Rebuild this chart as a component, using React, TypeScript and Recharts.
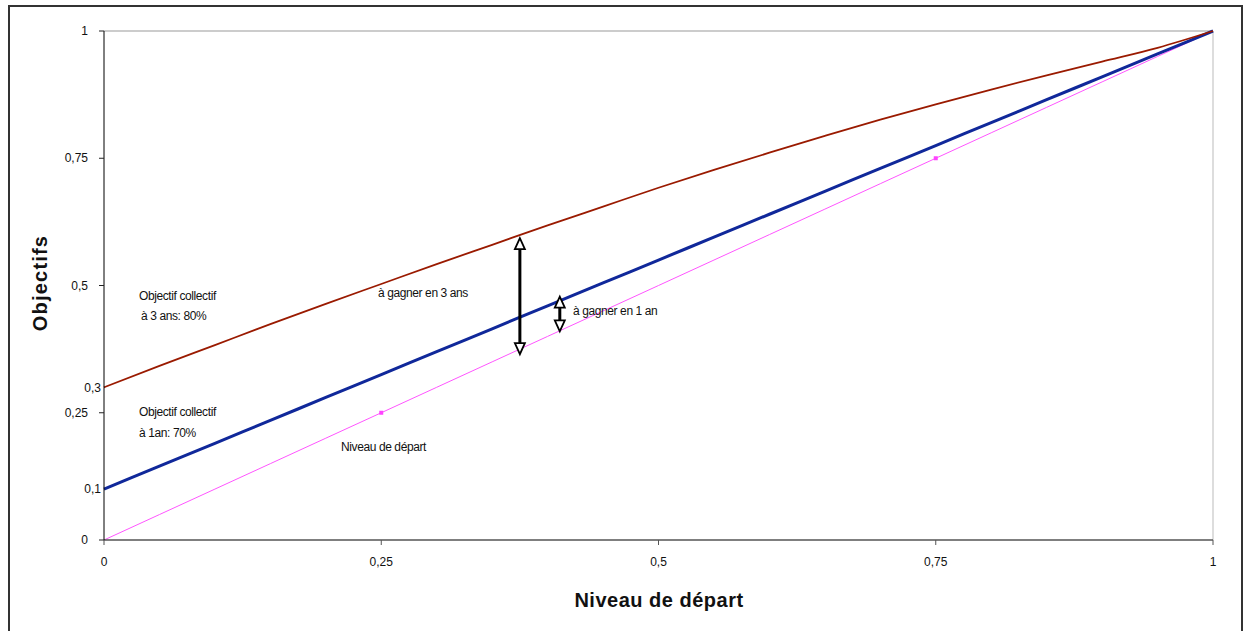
import React from "react";
import {
  LineChart,
  Line,
  XAxis,
  YAxis,
  ReferenceLine,
} from "recharts";

// niveau de départ (axe X)
const niveaux = [0, 0.05, 0.1, 0.15, 0.2, 0.25, 0.3, 0.35, 0.4, 0.45, 0.5, 0.55, 0.6, 0.65, 0.7, 0.75, 0.8, 0.85, 0.9, 0.95, 1];
// objectif collectif à 3 ans (80%)
const objectif3ans = [0.3, 0.342, 0.383, 0.424, 0.464, 0.503, 0.542, 0.58, 0.618, 0.655, 0.692, 0.727, 0.761, 0.794, 0.826, 0.856, 0.885, 0.913, 0.94, 0.967, 1];
// objectif collectif à 1 an (70%)
const objectif1an = [0.1, 0.145, 0.19, 0.235, 0.28, 0.325, 0.37, 0.415, 0.46, 0.505, 0.55, 0.595, 0.64, 0.685, 0.73, 0.775, 0.82, 0.865, 0.91, 0.955, 1];
// niveau de départ (diagonale)
const depart = [0, 0.05, 0.1, 0.15, 0.2, 0.25, 0.3, 0.35, 0.4, 0.45, 0.5, 0.55, 0.6, 0.65, 0.7, 0.75, 0.8, 0.85, 0.9, 0.95, 1];

const xTicks = [0, 0.25, 0.5, 0.75, 1];
const yTicks = [0, 0.1, 0.25, 0.3, 0.5, 0.75, 1];
const yMinorLabels = [0.1, 0.3];
const markerPoints = [0.25, 0.75];

// flèches "à gagner"
const fleche3ans = { x: 0.375, from: 0.593, to: 0.365 };
const fleche1an = { x: 0.411, from: 0.478, to: 0.41 };

const data = niveaux.map((x, i) => ({
  x,
  trois: objectif3ans[i],
  un: objectif1an[i],
  depart: depart[i],
}));

const fmt = (v: number) => String(v).replace(".", ",");

const YTick = (props: any) => {
  const { x, y, payload } = props;
  const v = payload.value;
  const minor = yMinorLabels.includes(v);
  return (
    <g>
      {!minor && <line x1={x - 5} x2={x} y1={y} y2={y} stroke="#222" />}
      <text
        x={minor ? x - 3 : x - 16}
        y={y}
        dy="0.35em"
        textAnchor="end"
        fontSize={12}
        fill="#111"
        fontFamily="Liberation Sans, Arial, sans-serif"
      >
        {fmt(v)}
      </text>
    </g>
  );
};

const XTick = (props: any) => {
  const { x, y, payload } = props;
  return (
    <text
      x={x}
      y={y}
      dy="0.71em"
      textAnchor="middle"
      fontSize={12}
      fill="#111"
      fontFamily="Liberation Sans, Arial, sans-serif"
    >
      {fmt(payload.value)}
    </text>
  );
};

const Arrow = (props: any) => {
  const { x1, y1, x2, y2 } = props;
  const top = Math.min(y1, y2);
  const bot = Math.max(y1, y2);
  const x = x1;
  return (
    <g>
      <line x1={x} x2={x2} y1={top + 8} y2={bot - 8} stroke="#000" strokeWidth={3} />
      <polygon
        points={`${x},${top} ${x - 5},${top + 11} ${x + 5},${top + 11}`}
        fill="#fff"
        stroke="#000"
        strokeWidth={1.8}
      />
      <polygon
        points={`${x},${bot} ${x - 5},${bot - 11} ${x + 5},${bot - 11}`}
        fill="#fff"
        stroke="#000"
        strokeWidth={1.8}
      />
    </g>
  );
};

const DepartDot = (props: any) => {
  const { cx, cy, payload } = props;
  if (!markerPoints.includes(payload.x)) return <g key={`d-${payload.x}`} />;
  return <rect key={`d-${payload.x}`} x={cx - 2} y={cy - 2} width={4} height={4} fill="#FF44FF" />;
};

const note: React.CSSProperties = {
  position: "absolute",
  fontFamily: "Liberation Sans, Arial, sans-serif",
  fontSize: 12,
  letterSpacing: -0.4,
  color: "#111",
  whiteSpace: "nowrap",
  lineHeight: "14px",
};

const title: React.CSSProperties = {
  position: "absolute",
  fontFamily: "Liberation Sans, Arial, sans-serif",
  fontWeight: "bold",
  fontSize: 20,
  color: "#111",
  whiteSpace: "nowrap",
};

export default function App() {
  return (
    <div
      style={{
        position: "absolute",
        left: 0,
        top: 0,
        width: 1244,
        height: 631,
        overflow: "hidden",
        background: "#fff",
      }}
    >
      <div
        style={{
          position: "absolute",
          left: 8,
          top: 5,
          width: 1235,
          height: 660,
          border: "2px solid #333",
          boxSizing: "border-box",
        }}
      />
      <div style={{ position: "absolute", left: 0, top: 0 }}>
        <LineChart
          width={1244}
          height={631}
          data={data}
          margin={{ top: 31, right: 31, bottom: 61, left: 44 }}
        >
          <XAxis
            type="number"
            dataKey="x"
            domain={[0, 1]}
            ticks={xTicks}
            height={30}
            tickSize={5}
            tickMargin={12}
            tick={<XTick />}
            axisLine={{ stroke: "#555", strokeWidth: 1.5 }}
            tickLine={{ stroke: "#555" }}
          />
          <YAxis
            type="number"
            domain={[0, 1]}
            ticks={yTicks}
            width={60}
            tickSize={0}
            tickMargin={0}
            tick={<YTick />}
            axisLine={{ stroke: "#000", strokeWidth: 1 }}
            tickLine={false}
          />
          <ReferenceLine y={1} stroke="#999" strokeWidth={1} />
          <ReferenceLine x={1} stroke="#bbb" strokeWidth={1} />
          <Line
            dataKey="depart"
            stroke="#FF55FF"
            strokeWidth={1}
            dot={<DepartDot />}
            activeDot={false}
            isAnimationActive={false}
          />
          <Line
            dataKey="un"
            stroke="#10289A"
            strokeWidth={3}
            dot={false}
            type="monotone"
            isAnimationActive={false}
          />
          <Line
            dataKey="trois"
            stroke="#9A1A00"
            strokeWidth={1.8}
            dot={false}
            type="monotone"
            isAnimationActive={false}
          />
          <ReferenceLine
            segment={[
              { x: fleche3ans.x, y: fleche3ans.from },
              { x: fleche3ans.x, y: fleche3ans.to },
            ]}
            shape={<Arrow />}
          />
          <ReferenceLine
            segment={[
              { x: fleche1an.x, y: fleche1an.from },
              { x: fleche1an.x, y: fleche1an.to },
            ]}
            shape={<Arrow />}
          />
        </LineChart>
      </div>

      <div
        style={{
          ...title,
          left: 659,
          top: 589,
          transform: "translateX(-50%)",
          letterSpacing: 0.5,
        }}
      >
        Niveau de départ
      </div>
      <div
        style={{
          ...title,
          left: 40,
          top: 283,
          transform: "translate(-50%, -50%) rotate(-90deg)",
          letterSpacing: 1.2,
        }}
      >
        Objectifs
      </div>

      <div style={{ ...note, left: 139, top: 289 }}>Objectif collectif</div>
      <div style={{ ...note, left: 141, top: 309 }}>à 3 ans: 80%</div>
      <div style={{ ...note, left: 378, top: 286 }}>à gagner en 3 ans</div>
      <div style={{ ...note, left: 573, top: 304 }}>à gagner en 1 an</div>
      <div style={{ ...note, left: 139, top: 405 }}>Objectif collectif</div>
      <div style={{ ...note, left: 139, top: 426 }}>à 1an: 70%</div>
      <div style={{ ...note, left: 341, top: 440 }}>Niveau de départ</div>
    </div>
  );
}
